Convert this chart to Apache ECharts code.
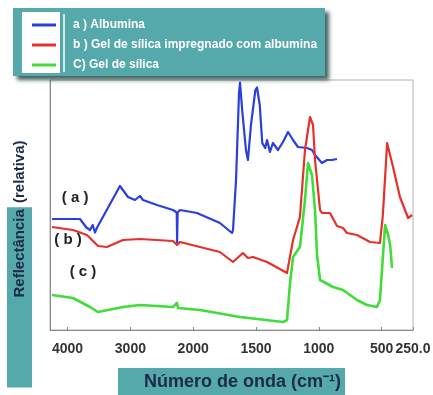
<!DOCTYPE html>
<html>
<head>
<meta charset="utf-8">
<script src="https://cdn.jsdelivr.net/npm/echarts@6/dist/echarts.min.js"></script>
<style>
  html, body { margin: 0; padding: 0; background: #fff; }
  #chart { width: 433px; height: 395px; }
</style>
</head>
<body>
<div id="chart"></div>
<script>
// wavenumber (cm-1) and relative reflectance (0-100)
const blueW = [4248, 3803, 3700, 3643, 3600, 3564, 3530, 3166, 3038, 2927, 2847, 2799, 2576, 2322, 2262, 2256, 2248, 2210, 1970, 1787, 1691, 1683, 1659, 1635, 1627, 1610, 1580, 1564, 1540, 1505, 1492, 1470, 1450, 1427, 1412, 1389, 1365, 1325, 1285, 1245, 1205, 1166, 1094, 1054, 1030, 975, 935, 895, 855]
const blueV = [44.4, 44.4, 41, 40, 42, 39, 41, 57.6, 53.2, 52, 53.6, 52, 50, 48, 47, 35, 47, 48, 46.8, 42.8, 38.8, 40, 60, 95, 99, 88, 72, 68, 82, 96, 97, 90, 74.8, 72.8, 76, 71.2, 74.8, 72, 75.2, 79.2, 76, 73.2, 72.8, 72, 70, 66.8, 68, 68, 68.4]

const redW = [4248, 3914, 3691, 3516, 3373, 3118, 2847, 2322, 2258, 2210, 1946, 1787, 1683, 1604, 1564, 1524, 1412, 1253, 1205, 1150, 1110, 1070, 1046, 1030, 990, 975, 911, 855, 807, 776, 696, 592, 513, 490, 456, 409, 354, 289, 257]
const redV = [41.2, 40, 38, 33.6, 33.2, 36, 36.4, 35.6, 34, 35.2, 33.2, 31.2, 27.2, 30.8, 28.8, 29.2, 27.2, 22.8, 36, 45.2, 72, 85.2, 82, 68, 48, 46.8, 46.8, 41.6, 40.8, 38.8, 38, 35.2, 34.8, 46, 74.8, 65.2, 53.2, 44.8, 46]

const greenW = [4248, 3914, 3643, 3516, 3118, 2847, 2322, 2258, 2242, 1946, 1627, 1285, 1253, 1229, 1205, 1150, 1110, 1086, 1054, 1030, 1014, 990, 887, 807, 696, 616, 537, 513, 497, 472, 448, 432, 417]
const greenV = [14, 12.8, 9.2, 7.2, 9.2, 10, 9.2, 10.8, 8.8, 8, 5.2, 3.2, 4, 18.8, 29.2, 33.2, 52, 66.8, 62, 48, 30, 20, 17.2, 16, 12, 10, 9.2, 12, 24, 42, 38, 34, 24.8]

const seriesNames = ['a ) Albumina', 'b ) Gel de sílica impregnado com albumina', 'C) Gel de sílica']
const curveTags = ['( a )', '( b )', '( c )']
const tagW = [3880, 3994, 3755]
const tagV = [52.8, 36, 23.2]

const tickW = [4000, 3000, 2000, 1500, 1000, 500, 250]
const tickText = ['4000', '3000', '2000', '1500', '1000', '500', '250.0']

// spectrometer axis: 4000-2000 at one scale, below 2000 at double scale
function tx(w) {
  return w >= 2000 ? (4000 - w) / 1000 : 2 + (2000 - w) / 500
}

const teal = '#55a9ab'
const font = "'Liberation Sans', Arial, sans-serif"
const tickT = tickW.map(tx)

function mkSeries(name, ws, vs, color, width, idx) {
  return {
    name,
    type: 'line',
    data: ws.map((w, i) => [tx(w), vs[i]]),
    symbol: 'none',
    lineStyle: { color, width, join: 'round' },
    itemStyle: { color },
    markPoint: {
      symbol: 'circle',
      symbolSize: 1,
      itemStyle: { color: 'rgba(0,0,0,0)' },
      label: {
        show: true,
        position: 'inside',
        formatter: curveTags[idx],
        color: '#222',
        fontSize: 15,
        fontWeight: 'bold',
        fontFamily: font
      },
      data: [{ coord: [tx(tagW[idx]), tagV[idx]] }]
    }
  }
}

const chart = echarts.init(document.getElementById('chart'))
chart.setOption({
  animation: false,
  grid: {
    left: 50, right: 20, top: 80, bottom: 65,
    outerBoundsMode: 'none',
    show: true, borderColor: '#b0b0b0', borderWidth: 1
  },
  graphic: [
    {
      type: 'rect', z: 1,
      shape: { x: 13, y: 8, width: 312, height: 68 },
      style: { fill: teal, shadowBlur: 4, shadowOffsetX: 4, shadowOffsetY: 4, shadowColor: 'rgba(20,60,60,0.8)' }
    },
    {
      type: 'rect', z: 2,
      shape: { x: 22, y: 12, width: 38, height: 61 },
      style: { fill: '#fff' }
    },
    {
      type: 'line', z: 2,
      shape: { x1: 64, y1: 14, x2: 64, y2: 72 },
      style: { stroke: '#fff', lineWidth: 1.5 }
    }
  ],
  legend: {
    z: 10,
    orient: 'vertical',
    left: 27,
    top: 13,
    itemWidth: 24,
    itemHeight: 3,
    itemGap: 6,
    icon: 'rect',
    data: seriesNames,
    textStyle: {
      color: '#fff',
      fontSize: 12,
      fontWeight: 'bold',
      fontFamily: font,
      lineHeight: 14,
      padding: [0, 0, 0, 12]
    }
  },
  xAxis: {
    type: 'value',
    min: tx(4280),
    max: 5.5,
    name: 'Número de onda (cm⁻¹)',
    nameLocation: 'middle',
    nameGap: 38,
    nameTextStyle: {
      color: '#1b2a48',
      fontSize: 18,
      fontWeight: 'bold',
      fontFamily: font,
      backgroundColor: teal,
      padding: [5, 4, 5, 26]
    },
    axisLine: { onZero: false, lineStyle: { color: '#8a8a8a' } },
    axisTick: { customValues: tickT, length: 3, inside: true, lineStyle: { color: '#8a8a8a' } },
    axisLabel: {
      customValues: tickT,
      formatter: v => tickText[tickT.findIndex(t => Math.abs(t - v) < 1e-6)],
      color: '#333',
      fontSize: 14,
      fontWeight: 'bold',
      fontFamily: font,
      margin: 12
    },
    splitLine: { show: false }
  },
  yAxis: {
    type: 'value',
    min: 0,
    max: 100,
    name: '{bg|Reflectância} (relativa)',
    nameLocation: 'middle',
    nameRotate: 90,
    nameGap: 18,
    nameTextStyle: {
      color: '#1b2a48',
      fontSize: 15,
      fontWeight: 'bold',
      fontFamily: font,
      padding: [0, 118, 0, 0],
      rich: {
        bg: {
          color: '#1b2a48',
          fontSize: 15,
          fontWeight: 'bold',
          fontFamily: font,
          backgroundColor: teal,
          padding: [5, 2, 5, 90]
        }
      }
    },
    axisLine: { show: true, onZero: false, lineStyle: { color: '#8a8a8a' } },
    axisTick: { show: false },
    axisLabel: { show: false },
    splitLine: { show: false }
  },
  series: [
    mkSeries(seriesNames[0], blueW, blueV, '#2a3fdc', 2.2, 0),
    mkSeries(seriesNames[1], redW, redV, '#e5302c', 2.2, 1),
    mkSeries(seriesNames[2], greenW, greenV, '#3fdc3a', 2.6, 2)
  ]
})
</script>
</body>
</html>
